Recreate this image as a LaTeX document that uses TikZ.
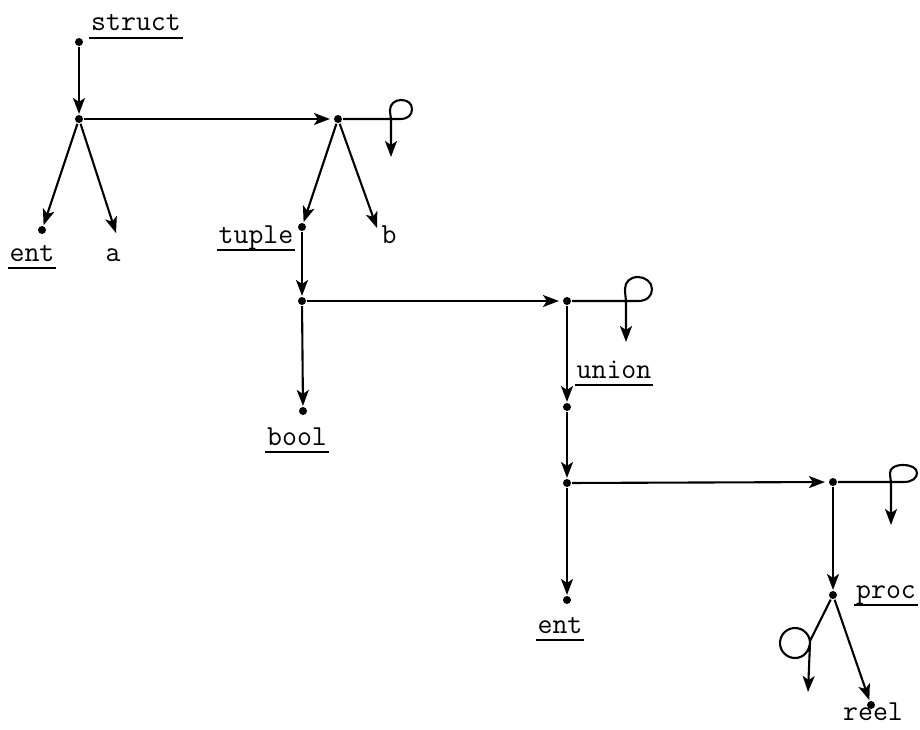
\documentclass[tikz,border=0pt]{standalone}
\usepackage{fontspec}
\usetikzlibrary{arrows.meta}
\begin{document}
\begin{tikzpicture}[x=1pt,y=-1pt,
  line width=2.1pt,
  dot/.style={circle,fill,inner sep=0pt,minimum size=8pt},
  lbl/.style={font=\ttfamily\fontsize{29}{34}\selectfont,anchor=base,inner xsep=1pt,inner ysep=0pt},
  arr/.style={-{Stealth[length=16pt,width=12pt,inset=4pt]}},
  ul/.style={line width=1.4pt}]
\useasboundingbox (0,0) rectangle (920,730);
% junction dots
\node[dot] (s0) at (79,42) {};
\node[dot] (A) at (79,119) {};
\node[dot] (e1) at (42,230) {};
\coordinate (atip) at (116,233);
\node[dot] (B) at (338,119) {};
\node[dot] (tu) at (302,227) {};
\coordinate (btip) at (377,228);
\node[dot] (C) at (302,301) {};
\node[dot] (D) at (567,301) {};
\node[dot] (bo) at (303,411) {};
\node[dot] (un) at (567,407) {};
\node[dot] (E) at (567,483) {};
\node[dot] (F) at (833,482) {};
\node[dot] (e2) at (567,600) {};
\node[dot] (pr) at (833,595) {};
\node[dot] (re) at (871,705) {};
\coordinate (l1) at (391,157);
\coordinate (l2) at (626,342);
\coordinate (l3) at (891,525);
\coordinate (l4) at (808,692);
% labels
\node[lbl] (tstruct) at (136,31) {struct};
\node[lbl] (tent1) at (32,261) {ent};
\node[lbl] (ta) at (113,261) {a};
\node[lbl] (ttuple) at (256,243) {tuple};
\node[lbl] (tb) at (389,243) {b};
\node[lbl] (tbool) at (297,445) {bool};
\node[lbl] (tunion) at (614,378) {union};
\node[lbl] (tent2) at (560,633) {ent};
\node[lbl] (tproc) at (886,598) {proc};
\node[lbl] (treel) at (873,720) {reel};
\foreach \t in {tstruct,tent1,ttuple,tbool,tunion,tent2,tproc}
  \draw[ul] ([yshift=-7pt]\t.base west) -- ([yshift=-7pt]\t.base east);
% connectors
\draw[arr] (s0) -- (A);
\draw[arr] (A) -- (e1);
\draw[arr] (A) -- (atip);
\draw[arr,shorten >=3pt] (A) -- (B);
\draw[arr] (B) -- (tu);
\draw[arr] (B) -- (btip);
\draw[arr] (B) -- (400,119) .. controls (408,119) and (412,115) .. (412,109)
  .. controls (412,103) and (407,100) .. (401,100)
  .. controls (395,100) and (390,104) .. (390,110)
  .. controls (390,114) and (391,117) .. (391,121) -- (l1);
\draw[arr] (tu) -- (C);
\draw[arr,shorten >=3pt] (C) -- (D);
\draw[arr] (C) -- (bo);
\draw[arr] (D) -- (638,301) .. controls (647,301) and (652,296) .. (652,289)
  .. controls (652,282) and (645,277) .. (638,277)
  .. controls (630,277) and (625,282) .. (625,289)
  .. controls (625,295) and (626,298) .. (626,303) -- (l2);
\draw[arr] (D) -- (un);
\draw[arr] (un) -- (E);
\draw[arr,shorten >=3pt] (E) -- (F);
\draw[arr] (E) -- (e2);
\draw[arr] (F) -- (904,482) .. controls (912,482) and (917,478) .. (917,473)
  .. controls (917,468) and (911,465) .. (903,465)
  .. controls (895,465) and (890,468) .. (890,473)
  .. controls (890,477) and (891,480) .. (891,484) -- (l3);
\draw[arr] (F) -- (pr);
\draw[arr] (pr) -- (re);
\draw[arr] (pr) -- (810,641) .. controls (810,651.3) and (803.3,658) .. (795,658)
  .. controls (786.7,658) and (780,651.3) .. (780,643)
  .. controls (780,634.7) and (786.7,628) .. (795,628)
  .. controls (803.3,628) and (810,634.7) .. (810,643) -- (l4);
\end{tikzpicture}
\end{document}
